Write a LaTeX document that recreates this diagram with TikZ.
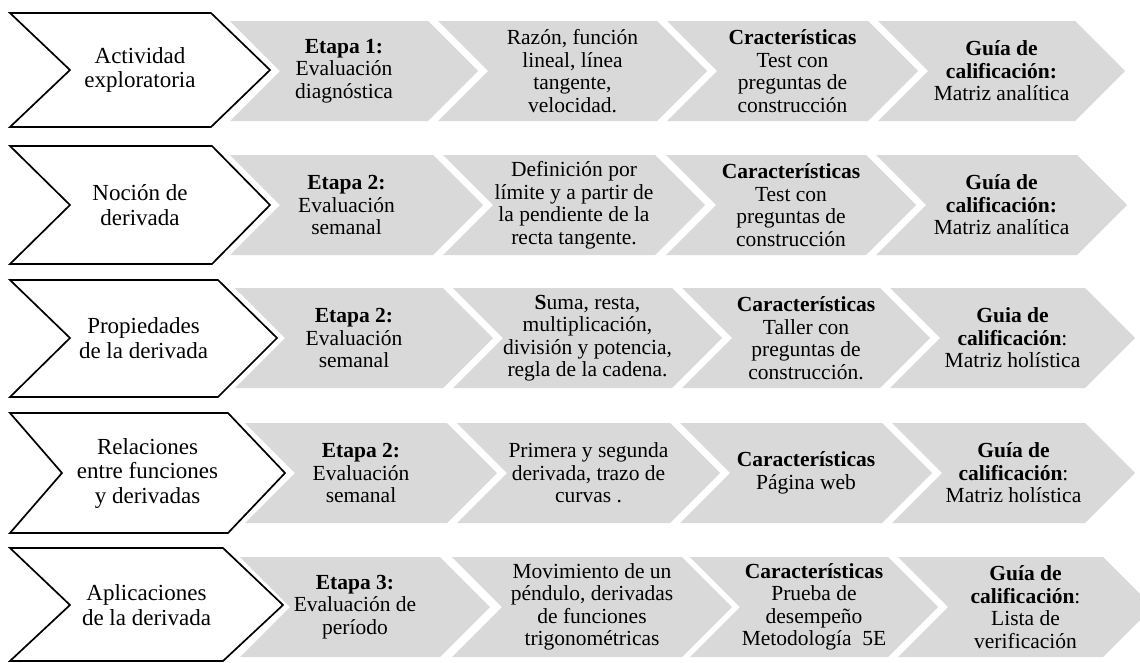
\documentclass[tikz,border=0pt]{standalone}
\usepackage{fontspec}
\setmainfont{Liberation Serif}
\definecolor{chevgray}{HTML}{D9D9D9}
\tikzset{
  graybody/.style={fill=chevgray, draw=none},
  whitebody/.style={fill=white, draw=black, line width=1.7pt, line join=miter},
  chevtext/.style={align=center, inner sep=0pt, font=\fontsize{21.5}{22.5}\selectfont},
  headtext/.style={align=center, inner sep=0pt, font=\fontsize{23}{24.5}\selectfont}
}
% #1 x0, #2 x1 (top right), #3 yc, #4 name, #5 text, #6 text dx
\newcommand{\graychev}[6]{%
  \fill[graybody] ({#1},{#3-50}) -- ({#2},{#3-50}) -- ({#2+50},{#3}) -- ({#2},{#3+50}) -- ({#1},{#3+50}) -- ({#1+50},{#3}) -- cycle;
  \node[chevtext] (#4) at ({(#1+#2+50)/2+#6},{#3}) {#5};
}
% #1 top, #2 bottom, #3 tr, #4 tip, #5 notch, #6 yc, #7 name, #8 text
\newcommand{\whitechev}[8]{%
  \draw[whitebody] (10,{#1}) -- ({#3},{#1}) -- ({#4},{#6}) -- ({#3},{#2}) -- (10,{#2}) -- ({#5},{#6}) -- cycle;
  \node[headtext] (#7) at ({(10+#4)/2},{#6}) {#8};
}
\begin{document}
\begin{tikzpicture}[x=1pt,y=-1pt]
\useasboundingbox (0,0) rectangle (1140,662);
\clip (0,0) rectangle (1140,662);
% Row 1
\whitechev{13}{127}{211}{270}{70}{70}{w1}{Actividad\\exploratoria}
\graychev{230}{428}{71}{a1}{\textbf{Etapa 1:}\\Evaluación\\diagnóstica}{-10}
\graychev{438}{657}{71}{b1}{Razón, función\\lineal, línea\\tangente,\\velocidad.}{0}
\graychev{667}{868}{71}{c1}{\textbf{Cracterísticas}\\Test con\\preguntas de\\construcción}{0}
\graychev{878}{1075}{71}{d1}{\textbf{Guía de}\\\textbf{calificación:}\\Matriz analítica}{0}
% Row 2
\whitechev{146}{264}{212}{270}{70}{205}{w2}{Noción de\\derivada}
\graychev{230}{433}{205}{a2}{\textbf{Etapa 2:}\\Evaluación\\semanal}{-10}
\graychev{443}{655}{205}{b2}{Definición por\\límite y a partir de\\la pendiente de la\\recta tangente.}{0}
\graychev{666}{866}{205}{c2}{\textbf{Características}\\Test con\\preguntas de\\construcción}{0}
\graychev{876}{1077}{205}{d2}{\textbf{Guía de}\\\textbf{calificación:}\\Matriz analítica}{0}
% Row 3
\whitechev{280}{397}{218}{277}{70}{338}{w3}{Propiedades\\de la derivada}
\graychev{235}{443}{338}{a3}{\textbf{Etapa 2:}\\Evaluación\\semanal}{-10}
\graychev{453}{672}{338}{b3}{\textbf{S}uma, resta,\\multiplicación,\\división y potencia,\\regla de la cadena.}{0}
\graychev{682}{880}{338}{c3}{\textbf{Características}\\Taller con\\preguntas de\\construcción.}{0}
\graychev{890}{1085}{338}{d3}{\textbf{Guia de}\\\textbf{calificación}:\\Matriz holística}{0}
% Row 4
\whitechev{413}{533}{228}{285}{62}{473}{w4}{Relaciones\\entre funciones\\y derivadas}
\graychev{245}{447}{473}{a4}{\textbf{Etapa 2:}\\Evaluación\\semanal}{-10}
\graychev{457}{670}{473}{b4}{Primera y segunda\\derivada, trazo de\\curvas .}{0}
\graychev{680}{882}{473}{c4}{\textbf{Características}\\Página web}{0}
\graychev{892}{1085}{473}{d4}{\textbf{Guía de}\\\textbf{calificación}:\\Matriz holística}{0}
% Row 5
\whitechev{548}{661}{223}{283}{70}{605}{w5}{Aplicaciones\\de la derivada}
\graychev{240}{440}{607}{a5}{\textbf{Etapa 3:}\\Evaluación de\\período}{-10}
\graychev{452}{682}{607}{b5}{Movimiento de un\\péndulo, derivadas\\de funciones\\trigonométricas}{0}
\graychev{690}{888}{607}{c5}{\textbf{Características}\\Prueba de\\desempeño\\Metodología~~5E}{0}
\graychev{898}{1103}{607}{d5}{\textbf{Guía de}\\\textbf{calificación}:\\Lista de\\verificación}{0}
\end{tikzpicture}
\end{document}
